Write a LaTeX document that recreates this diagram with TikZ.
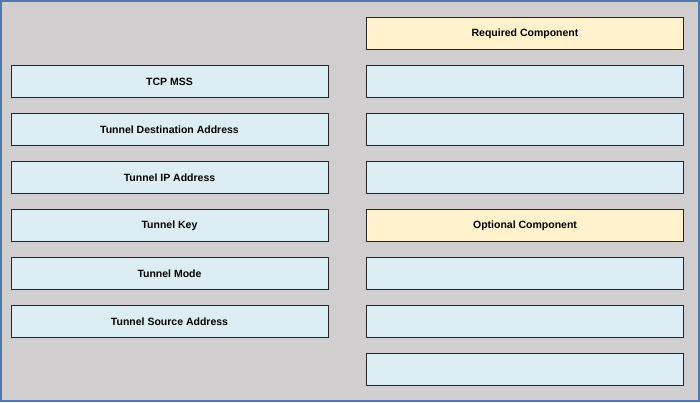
\documentclass[tikz,border=0pt]{standalone}
\usepackage{fontspec}
\setmainfont{Liberation Sans}
\usetikzlibrary{positioning}
\definecolor{panelgray}{RGB}{208,206,206}
\definecolor{frameblue}{RGB}{80,120,170}
\definecolor{slotblue}{RGB}{220,237,244}
\definecolor{slotyellow}{RGB}{255,242,204}
\tikzstyle{slot} = [rectangle, draw=black!85, line width=1pt, fill=slotblue, minimum width=317pt, minimum height=32pt, inner sep=0pt, outer sep=0pt, font=\fontsize{10.5}{12}\selectfont\bfseries, text centered]
\tikzstyle{label} = [slot, fill=slotyellow]

\begin{document}
\begin{tikzpicture}[x=1pt, y=1pt, node distance=16pt]
\useasboundingbox (0,0) rectangle (700,402);
\fill [panelgray] (0,0) rectangle (700,402);
\draw [frameblue, line width=2pt] (1,1) rectangle (699,401);
% left column
\node [slot] (tcpmss) at (169.5,320.5) {TCP MSS};
\node [slot, below=of tcpmss] (tunneldest) {Tunnel Destination Address};
\node [slot, below=of tunneldest] (tunnelip) {Tunnel IP Address};
\node [slot, below=of tunnelip] (tunnelkey) {Tunnel Key};
\node [slot, below=of tunnelkey] (tunnelmode) {Tunnel Mode};
\node [slot, below=of tunnelmode] (tunnelsrc) {Tunnel Source Address};
% right column
\node [label] (required) at (525,368.5) {Required Component};
\node [slot, below=of required] (reqone) {};
\node [slot, below=of reqone] (reqtwo) {};
\node [slot, below=of reqtwo] (reqthree) {};
\node [label, below=of reqthree] (optional) {Optional Component};
\node [slot, below=of optional] (optone) {};
\node [slot, below=of optone] (opttwo) {};
\node [slot, below=of opttwo] (optthree) {};
\end{tikzpicture}
\end{document}
